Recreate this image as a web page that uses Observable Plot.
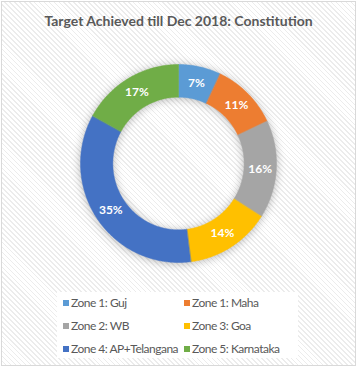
<!DOCTYPE html>
<html><head><meta charset="utf-8">
<script src="https://cdn.jsdelivr.net/npm/d3@7"></script>
<script src="https://cdn.jsdelivr.net/npm/@observablehq/plot@0.6"></script>
<style>
body{margin:0;background:#fff;font-family:Lato,"Open Sans",sans-serif;}
#wrap{position:relative;width:357px;height:368px;overflow:hidden;}
#bg{position:absolute;left:1px;top:1px;width:353px;height:363px;border:1px solid #d9d9d9;
 background:repeating-linear-gradient(45deg,#ffffff 0px,#ffffff 2.3px,#ececec 2.3px,#ececec 3.5px);}
#title{position:absolute;left:0;top:11px;width:357px;text-align:center;font-size:14px;font-weight:bold;color:#595959;line-height:20px;}
#plot{position:absolute;left:0;top:42px;}
#legend{position:absolute;left:57px;top:292px;width:241px;height:66px;background:#fff;}
.item{position:absolute;font-size:12px;letter-spacing:-0.5px;color:#595959;line-height:14px;white-space:nowrap;}
.sw{display:inline-block;width:6px;height:6px;margin-right:2px;vertical-align:1px;}
</style>
</head><body>
<div id="wrap">
  <div id="bg"></div>
  <div id="title">Target Achieved till Dec 2018: Constitution</div>
  <div id="plot"></div>
  <div id="legend"></div>
</div>
<script>
const zones = ["Zone 1: Guj","Zone 1: Maha","Zone 2: WB","Zone 3: Goa","Zone 4: AP+Telangana","Zone 5: Karnataka"];
const shares = [7,11,16,14,35,17];
const colors = ["#5B9BD5","#ED7D31","#A5A5A5","#FFC000","#4472C4","#70AD47"];

const rows = zones.map((z,i)=>({zone:z, share:shares[i]}));
const arcs = d3.pie().sort(null).value(d=>d.share)(rows);
const R = 1, r0 = 0.67;
const pts = [];
const labels = [];
for (const a of arcs) {
  const n = Math.max(8, Math.ceil((a.endAngle - a.startAngle) / 0.01));
  for (let k = 0; k <= n; k++) {
    const t = a.startAngle + (a.endAngle - a.startAngle) * k / n;
    pts.push({zone:a.data.zone, x:R*Math.sin(t), y:R*Math.cos(t)});
  }
  for (let k = n; k >= 0; k--) {
    const t = a.startAngle + (a.endAngle - a.startAngle) * k / n;
    pts.push({zone:a.data.zone, x:r0*Math.sin(t), y:r0*Math.cos(t)});
  }
  const m = (a.startAngle + a.endAngle)/2, rm = (R + r0)/2;
  labels.push({zone:a.data.zone, x:rm*Math.sin(m), y:rm*Math.cos(m), text:a.data.share + "%"});
}

const chart = Plot.plot({
  width:357, height:240,
  marginLeft:80, marginRight:81, marginTop:22, marginBottom:20,
  style:{background:"transparent", overflow:"visible"},
  x:{domain:[-1,1], axis:null},
  y:{domain:[-1,1], axis:null},
  color:{domain:zones, range:colors},
  marks:[
    Plot.line(pts, {x:"x", y:"y", z:"zone", fill:"zone", stroke:"zone", strokeWidth:0.5, curve:"linear-closed"}),
    Plot.text(labels, {x:"x", y:"y", text:"text", fill:"white", fontWeight:"bold", fontSize:12, fontFamily:"Lato"})
  ]
});
document.getElementById("plot").appendChild(chart);
const lineG = chart.querySelector('g[aria-label="line"]');
if (lineG) lineG.style.filter = "drop-shadow(0px 1px 4px rgba(0,0,0,0.28))";

const leg = document.getElementById("legend");
const rowY = [4, 27, 50];
const colX = [6, 127];
zones.forEach((z,i)=>{
  const d = document.createElement("div");
  d.className = "item";
  d.style.left = colX[i%2] + "px";
  d.style.top = rowY[Math.floor(i/2)] + "px";
  d.innerHTML = `<span class="sw" style="background:${colors[i]}"></span>`;
  d.appendChild(document.createTextNode(z));
  leg.appendChild(d);
});
</script>
</body></html>
